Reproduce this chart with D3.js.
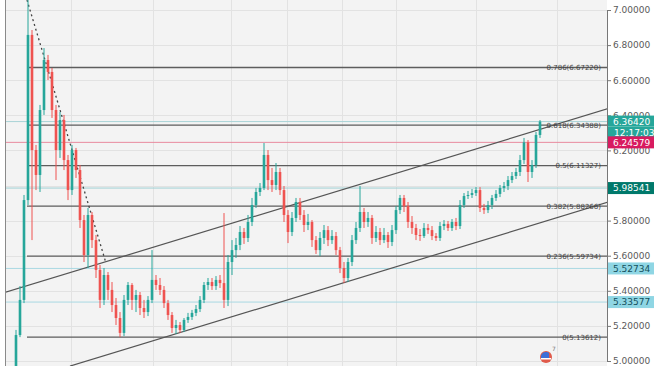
<!DOCTYPE html>
<html><head><meta charset="utf-8">
<script src="https://cdn.jsdelivr.net/npm/d3@7"></script>
<style>html,body{margin:0;padding:0;background:#fff;overflow:hidden}</style>
</head><body><svg id="c" width="654" height="366"></svg>
<script>
const openP = [
4.960,5.148,5.348,5.917,6.858,6.202,6.060,6.430,6.715,6.647,
6.430,6.202,6.373,6.145,5.974,6.202,6.088,5.803,5.604,5.832,
5.689,5.519,5.348,5.490,5.405,5.319,5.245,5.160,5.348,5.433,
5.348,5.376,5.302,5.279,5.348,5.462,5.433,5.405,5.330,5.262,
5.188,5.205,5.177,5.234,5.251,5.274,5.296,5.348,5.433,5.450,
5.427,5.462,5.444,5.348,5.564,5.632,5.661,5.735,5.701,5.792,
5.889,5.963,5.986,6.174,6.031,6.003,6.077,5.974,5.832,5.735,
5.815,5.906,5.832,5.775,5.792,5.689,5.632,5.701,5.746,5.689,
5.712,5.632,5.530,5.473,5.564,5.689,5.758,5.849,5.792,5.815,
5.701,5.735,5.689,5.718,5.678,5.746,5.860,5.929,5.883,5.792,
5.758,5.718,5.712,5.758,5.746,5.712,5.701,5.769,5.781,5.758,
5.792,5.769,5.889,5.940,5.946,5.957,5.974,5.872,5.860,5.889,
5.929,5.952,5.986,5.997,6.031,6.054,6.077,6.145,6.246,6.077,
6.117,6.288];
const closeP = [
5.148,5.348,5.917,6.858,6.202,6.060,6.430,6.715,6.647,6.430,
6.202,6.373,6.145,5.974,6.202,6.088,5.803,5.604,5.832,5.689,
5.519,5.348,5.490,5.405,5.319,5.245,5.160,5.348,5.433,5.348,
5.376,5.302,5.279,5.348,5.462,5.433,5.405,5.330,5.262,5.188,
5.205,5.177,5.234,5.251,5.274,5.296,5.348,5.433,5.450,5.427,
5.462,5.444,5.348,5.564,5.632,5.661,5.735,5.701,5.792,5.889,
5.963,5.986,6.174,6.031,6.003,6.077,5.974,5.832,5.735,5.815,
5.906,5.832,5.775,5.792,5.689,5.632,5.701,5.746,5.689,5.712,
5.632,5.530,5.473,5.564,5.689,5.758,5.849,5.792,5.815,5.701,
5.735,5.689,5.718,5.678,5.746,5.860,5.929,5.883,5.792,5.758,
5.718,5.712,5.758,5.746,5.712,5.701,5.769,5.781,5.758,5.792,
5.769,5.889,5.940,5.946,5.957,5.974,5.872,5.860,5.889,5.929,
5.952,5.986,5.997,6.031,6.054,6.077,6.145,6.246,6.077,6.117,
6.288,6.364];
const highP = [
5.177,5.427,5.946,7.090,6.886,6.231,6.459,6.783,6.744,6.670,
6.459,6.419,6.402,6.174,6.231,6.214,6.117,5.832,5.872,5.849,
5.718,5.547,5.530,5.507,5.450,5.359,5.279,5.376,5.450,5.444,
5.405,5.393,5.348,5.370,5.632,5.490,5.473,5.427,5.348,5.279,
5.234,5.222,5.245,5.274,5.291,5.319,5.370,5.450,5.473,5.473,
5.484,5.490,5.843,5.604,5.689,5.701,5.769,5.758,5.832,5.929,
5.986,6.014,6.242,6.202,6.100,6.128,6.100,5.997,5.860,5.849,
5.929,5.929,5.860,5.838,5.803,5.712,5.735,5.775,5.769,5.746,
5.735,5.650,5.564,5.587,5.718,5.792,5.997,5.872,5.849,5.832,
5.769,5.758,5.758,5.735,5.775,5.883,5.946,5.946,5.906,5.826,
5.781,5.752,5.786,5.781,5.769,5.729,5.792,5.803,5.798,5.809,
5.815,5.917,5.957,5.969,5.980,5.991,5.991,5.895,5.912,5.946,
5.974,6.003,6.020,6.054,6.077,6.100,6.174,6.271,6.259,6.145,
6.305,6.373];
const lowP = [
4.930,5.136,5.330,5.889,5.689,5.974,5.963,6.402,6.601,6.385,
6.031,6.157,6.088,5.917,5.946,6.043,5.758,5.564,5.530,5.644,
5.473,5.302,5.319,5.348,5.279,5.205,5.136,5.142,5.319,5.291,
5.279,5.262,5.245,5.256,5.330,5.405,5.376,5.302,5.234,5.160,
5.154,5.160,5.165,5.217,5.234,5.256,5.279,5.330,5.405,5.405,
5.405,5.416,5.302,5.313,5.490,5.587,5.632,5.667,5.678,5.769,
5.872,5.940,5.974,5.974,5.963,5.974,5.946,5.792,5.672,5.712,
5.792,5.803,5.735,5.746,5.650,5.610,5.598,5.667,5.655,5.667,
5.604,5.501,5.444,5.450,5.541,5.667,5.735,5.758,5.764,5.667,
5.678,5.661,5.672,5.644,5.655,5.724,5.838,5.849,5.758,5.724,
5.689,5.684,5.701,5.724,5.689,5.684,5.684,5.746,5.741,5.741,
5.746,5.752,5.872,5.923,5.929,5.940,5.849,5.838,5.843,5.866,
5.912,5.934,5.963,5.974,6.014,6.037,6.054,6.123,6.020,6.043,
6.100,6.271];

const axisTicks = [5.0,5.2,5.4,5.6,5.8,6.0,6.2,6.4,6.6,6.8,7.0];
const hiddenTickLabels = [6.0];
const fibRatios = [0.786,0.618,0.5,0.382,0.236,0];
const fibPrices = [6.67220,6.34388,6.11327,5.88266,5.59734,5.13612];
const fibStartIdx = 2.75;
const channelUpper = [[-4,5.382],[148,6.438]];
const channelLower = [[13.5,4.971],[148,5.905]];
const trendDotted = [[2.75,7.057],[22.5,5.558]];
const gridIdx = [13.75,34.25,53.75,67.75,81.5,95,115,135.25];
const priceLines = [6.36420,6.24579,5.98541,5.52734,5.33577];
const priceLineColors = ["#a9d3d6","#e88a9e","#9fd0d4","#a9d8e2","#a9d8e2"];
const tagValues = ["6.36420","12:17:03","6.24579","5.98541","5.52734","5.33577"];
const tagPrices = [6.36420,null,6.24579,5.98541,5.52734,5.33577];
const tagFill = ["#26a69a","#26a69a","#d81b60","#00796b","#8fd6e4","#8fd6e4"];
const tagText = ["#fff","#fff","#fff","#fff","#14505c","#14505c"];

const svg = d3.select("#c");
const L = 5, R = 607, W = 654, H = 366;
const x = d3.scaleLinear().domain([0, closeP.length-1]).range([16, 540]);
const y = d3.scaleLinear().domain([5, 7]).range([361, 10]);

svg.append("rect").attr("x",0).attr("y",0).attr("width",W).attr("height",H).attr("fill","#fff");
svg.append("rect").attr("x",L).attr("y",0).attr("width",R-L).attr("height",H).attr("fill","#f3f3f3");
svg.append("defs").append("clipPath").attr("id","pc").append("rect")
  .attr("x",L).attr("y",0).attr("width",R-L).attr("height",H);
const g = svg.append("g").attr("clip-path","url(#pc)");

// grid
g.selectAll(".hg").data(axisTicks).enter().append("line")
  .attr("x1",L).attr("x2",R).attr("y1",d=>Math.round(y(d))+0.5).attr("y2",d=>Math.round(y(d))+0.5)
  .attr("stroke","#e2e2e2").attr("stroke-width",1);
g.selectAll(".vg").data(gridIdx).enter().append("line")
  .attr("x1",d=>Math.round(x(d))+0.5).attr("x2",d=>Math.round(x(d))+0.5).attr("y1",0).attr("y2",H)
  .attr("stroke","#e2e2e2").attr("stroke-width",1);

// price lines
g.selectAll(".pl").data(priceLines).enter().append("line")
  .attr("x1",L).attr("x2",R).attr("y1",d=>y(d)).attr("y2",d=>y(d))
  .attr("stroke",(d,i)=>priceLineColors[i]).attr("stroke-width",1);

// fib lines
g.selectAll(".fl").data(fibPrices).enter().append("line")
  .attr("x1",x(fibStartIdx)).attr("x2",R).attr("y1",d=>y(d)).attr("y2",d=>y(d))
  .attr("stroke","#5d5d5d").attr("stroke-width",1.4);

// channel
const ln = d3.line().x(d=>x(d[0])).y(d=>y(d[1]));
[channelUpper, channelLower].forEach(c=>{
  g.append("path").attr("d",ln(c)).attr("fill","none").attr("stroke","#555").attr("stroke-width",1.2);
});
g.append("path").attr("d",ln(trendDotted)).attr("fill","none").attr("stroke","#444")
  .attr("stroke-width",1.3).attr("stroke-dasharray","2,3");

// candles
const idx = d3.range(closeP.length);
const up = i => closeP[i] >= openP[i];
const GREEN = "#26a69a", RED = "#ef5350";
g.selectAll(".wk").data(idx).enter().append("line")
  .attr("x1",i=>x(i)).attr("x2",i=>x(i)).attr("y1",i=>y(highP[i])).attr("y2",i=>y(lowP[i]))
  .attr("stroke",i=>up(i)?GREEN:RED).attr("stroke-width",1);
g.selectAll(".bd").data(idx).enter().append("rect")
  .attr("x",i=>x(i)-1.3).attr("width",2.6)
  .attr("y",i=>y(Math.max(openP[i],closeP[i])))
  .attr("height",i=>Math.max(1,Math.abs(y(openP[i])-y(closeP[i]))))
  .attr("fill",i=>up(i)?GREEN:RED);

// fib labels
g.selectAll(".ft").data(fibPrices).enter().append("text")
  .attr("x",601).attr("y",d=>y(d)).attr("dy","0.35em").attr("text-anchor","end")
  .attr("font-family","DejaVu Sans").attr("font-size",7).attr("fill","#444")
  .text((d,i)=>fibRatios[i]+"("+d.toFixed(5)+")");

// event icon
const ic = svg.append("g").attr("transform","translate(546,357)");
ic.append("circle").attr("r",6).attr("fill","#e05a4a");
ic.append("path").attr("d","M-5,-1 A5,5 0 0 1 3,-4 L3,1 L-5,1Z").attr("fill","#3d6fd8");
ic.append("rect").attr("x",-5).attr("y",1).attr("width",10).attr("height",1.5).attr("fill","#fff");
svg.append("text").attr("x",552).attr("y",351).attr("font-size",6).attr("fill","#777").attr("font-family","DejaVu Sans").text("7");

// left border
svg.append("line").attr("x1",L+0.5).attr("x2",L+0.5).attr("y1",0).attr("y2",H).attr("stroke","#8a8a8a");

// right axis
const ax = svg.append("g").attr("transform",`translate(${R},0)`)
  .call(d3.axisRight(y).tickValues(axisTicks)
    .tickFormat(d => hiddenTickLabels.includes(d) ? "" : d3.format(".5f")(d))
    .tickSize(4).tickPadding(2));
ax.select(".domain").attr("stroke","#777");
ax.selectAll(".tick line").attr("stroke","#777");
ax.selectAll("text").attr("font-family","DejaVu Sans").attr("font-size",9).attr("fill","#5a5a5a");

// price tags
const tagY = tagPrices.map((p,i)=> p===null ? null : y(p));
tagY[1] = tagY[0] + 11;
const tg = svg.selectAll(".tag").data(tagValues).enter().append("g")
  .attr("transform",(d,i)=>`translate(${R+1},${tagY[i]})`);
tg.append("rect").attr("x",0).attr("y",-6).attr("width",W-R-1).attr("height",(d,i)=>i===0?11:12)
  .attr("fill",(d,i)=>tagFill[i]);
tg.append("text").attr("x",(d,i)=>i===1?6:5).attr("y",0).attr("dy","0.35em")
  .attr("font-family","DejaVu Sans").attr("font-size",9).attr("fill",(d,i)=>tagText[i]).text(d=>d);
</script></body></html>
